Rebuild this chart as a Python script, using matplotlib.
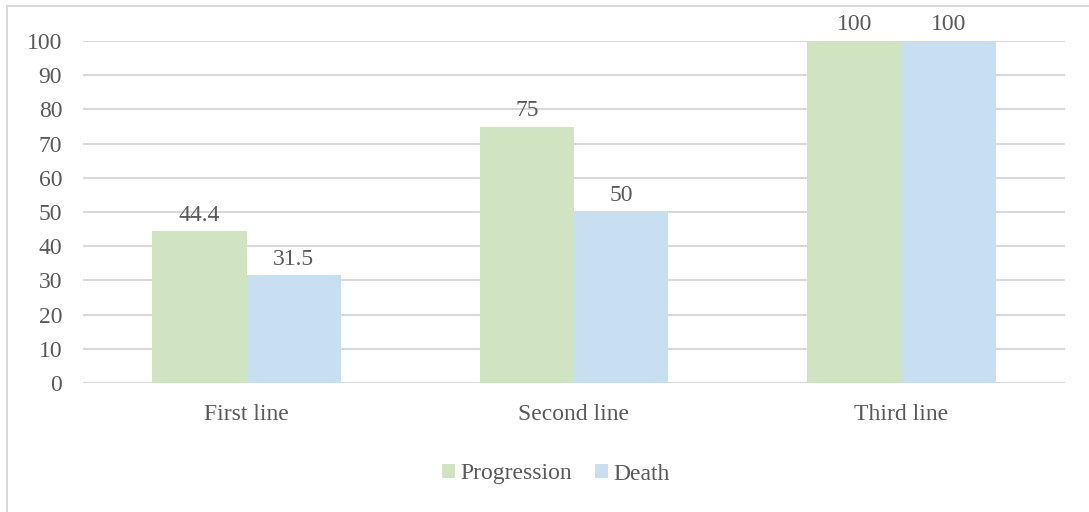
import matplotlib
matplotlib.use("Agg")
import matplotlib.pyplot as plt
import numpy as np
from matplotlib.patches import Rectangle

categories = ["First line", "Second line", "Third line"]
progression = [44.4, 75, 100]
death = [31.5, 50, 100]
series_names = ["Progression", "Death"]
yticks = [0, 10, 20, 30, 40, 50, 60, 70, 80, 90, 100]

green = "#d0e4c2"
blue = "#c8dff2"
text_color = "#595959"
grid_color = "#d9d9d9"
fs = 17

plt.rcParams["font.family"] = ["Liberation Serif", "DejaVu Serif"]

W, H = 1089, 512
fig = plt.figure(figsize=(W / 100, H / 100), dpi=100)

# chart border (top and left edges are inside the canvas)
fig.patches.append(Rectangle((7 / W, -0.1), 1.2, (1 - 6 / H) + 0.1,
                             transform=fig.transFigure, fill=False,
                             edgecolor="#d9d9d9", linewidth=1.5))

ax = fig.add_axes([83 / W, 1 - 383 / H, (1065 - 83) / W, (383 - 41) / H])

x = np.arange(len(categories))
bw = 0.288
b1 = ax.bar(x - bw / 2, progression, bw, color=green, label=series_names[0], zorder=2)
b2 = ax.bar(x + bw / 2, death, bw, color=blue, label=series_names[1], zorder=2)

for bars, vals in ((b1, progression), (b2, death)):
    for rect, v in zip(bars, vals):
        ax.annotate(f"{v:g}", (rect.get_x() + rect.get_width() / 2, v),
                    xytext=(0, 4), textcoords="offset points",
                    ha="center", va="bottom", fontsize=fs, color=text_color)

ax.set_xlim(-0.5, 2.5)
ax.set_ylim(0, 100)
ax.set_yticks(yticks)
ax.set_xticks(x)
ax.set_xticklabels(categories)
ax.tick_params(axis="both", length=0, labelsize=fs, labelcolor=text_color)
ax.tick_params(axis="y", pad=15)
ax.tick_params(axis="x", pad=15)
ax.yaxis.grid(True, color=grid_color, linewidth=1.5, zorder=0)
ax.set_axisbelow(True)
for s in ax.spines.values():
    s.set_visible(False)
ax.axhline(0, color=grid_color, linewidth=1.5, zorder=1)

leg = fig.legend(handles=[b1, b2], labels=series_names, loc="center",
                 bbox_to_anchor=(556 / W, 1 - 474 / H), ncol=2, frameon=False,
                 fontsize=fs, handlelength=0.55, handleheight=0.55,
                 handletextpad=0.2, columnspacing=1.0)
for t in leg.get_texts():
    t.set_color(text_color)

fig.savefig("out.png", dpi=100)
